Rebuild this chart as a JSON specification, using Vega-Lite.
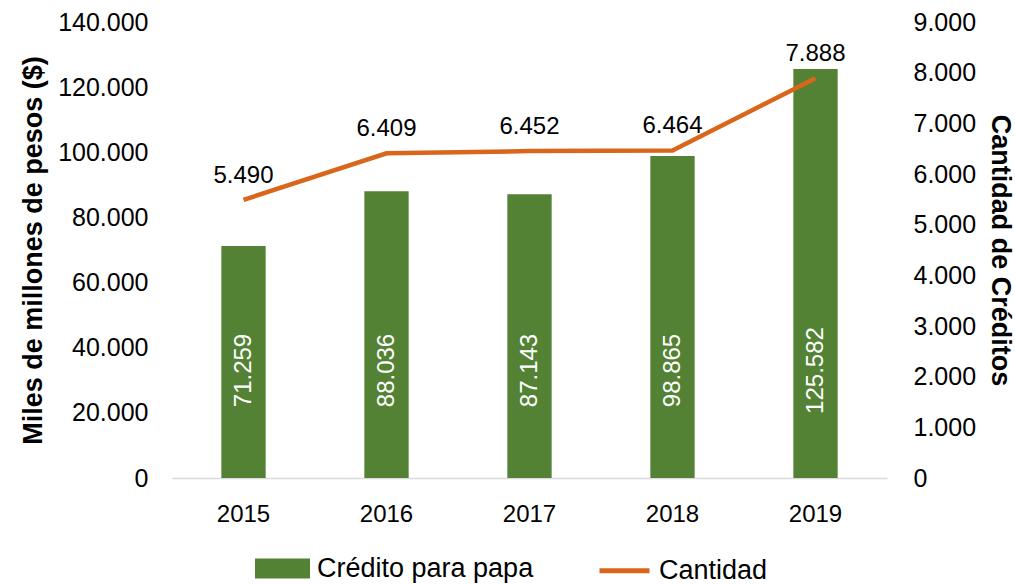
{
  "$schema": "https://vega.github.io/schema/vega-lite/v6.json",
  "width": 715,
  "height": 456,
  "autosize": "none",
  "padding": {"left": 172, "top": 22, "right": 128, "bottom": 107},
  "background": "white",
  "config": {
    "locale": {"number": {"decimal": ",", "thousands": ".", "grouping": [3], "currency": ["$", ""]}},
    "view": {"stroke": null},
    "font": "Liberation Sans",
    "axis": {"labelFont": "Liberation Sans", "labelColor": "#000000", "labelFontSize": 25, "titleFont": "Liberation Sans", "titleColor": "#000000", "titleFontWeight": "bold", "titleFontSize": 27, "grid": false},
    "legend": {"labelFont": "Liberation Sans", "labelFontSize": 27, "labelColor": "#000000", "labelLimit": 400}
  },
  "data": {"values": [
    {"year": "2015", "credito": 71259, "cantidad": 5490},
    {"year": "2016", "credito": 88036, "cantidad": 6409},
    {"year": "2017", "credito": 87143, "cantidad": 6452},
    {"year": "2018", "credito": 98865, "cantidad": 6464},
    {"year": "2019", "credito": 125582, "cantidad": 7888}
  ]},
  "encoding": {
    "x": {"field": "year", "type": "nominal", "scale": {"paddingInner": 0.69, "paddingOuter": 0.345},
      "axis": {"title": null, "labelAngle": 0, "ticks": false, "domainColor": "#D9D9D9", "domainWidth": 1.5, "labelPadding": 24, "labelFontSize": 24}}
  },
  "layer": [
    {"layer": [
      {"mark": {"type": "bar"},
       "encoding": {
         "y": {"field": "credito", "type": "quantitative", "scale": {"domain": [0, 140000]},
           "axis": {"title": "Miles de millones de pesos ($)", "format": ",d", "values": [0, 20000, 40000, 60000, 80000, 100000, 120000, 140000], "domain": false, "ticks": false, "labelPadding": 24, "titlePadding": 10}},
         "color": {"datum": "Crédito para papa", "type": "nominal",
           "scale": {"domain": ["Crédito para papa", "Cantidad"], "range": ["#548235", "#D9661A"]},
           "legend": {"title": null, "orient": "none", "direction": "horizontal", "legendX": 83, "legendY": 519, "padding": 0, "columnPadding": 55, "labelOffset": 7, "symbolSize": 2500, "symbolStrokeWidth": 5,
             "encode": {"symbols": {"update": {
               "shape": {"signal": "datum.value === 'Cantidad' ? 'stroke' : 'M-1,-0.3H1V0.3H-1Z'"},
               "fill": {"signal": "datum.value === 'Cantidad' ? 'transparent' : '#548235'"},
               "stroke": {"signal": "datum.value === 'Cantidad' ? '#D9661A' : 'transparent'"},
               "strokeWidth": {"value": 5},
               "size": {"value": 2500},
               "opacity": {"value": 1}
             }}}}}
       }},
      {"mark": {"type": "text", "angle": -90, "fill": "#FFFFFF", "fontSize": 24, "align": "center", "baseline": "middle"},
       "encoding": {
         "y": {"datum": 33000},
         "text": {"field": "credito", "type": "quantitative", "format": ",d"}
       }}
    ]},
    {"layer": [
      {"mark": {"type": "line", "strokeWidth": 4.5},
       "encoding": {
         "y": {"field": "cantidad", "type": "quantitative", "scale": {"domain": [0, 9000]},
           "axis": {"title": "Cantidad de Créditos", "orient": "right", "format": ",d", "values": [0, 1000, 2000, 3000, 4000, 5000, 6000, 7000, 8000, 9000], "domain": false, "ticks": false, "labelPadding": 26, "titlePadding": 10, "titleAngle": 90}},
         "color": {"datum": "Cantidad", "type": "nominal"}
       }},
      {"mark": {"type": "text", "fill": "#000000", "fontSize": 24, "align": "center", "baseline": "bottom", "dy": -12},
       "encoding": {
         "y": {"field": "cantidad", "type": "quantitative"},
         "text": {"field": "cantidad", "type": "quantitative", "format": ",d"}
       }}
    ]}
  ],
  "resolve": {"scale": {"y": "independent"}}
}
